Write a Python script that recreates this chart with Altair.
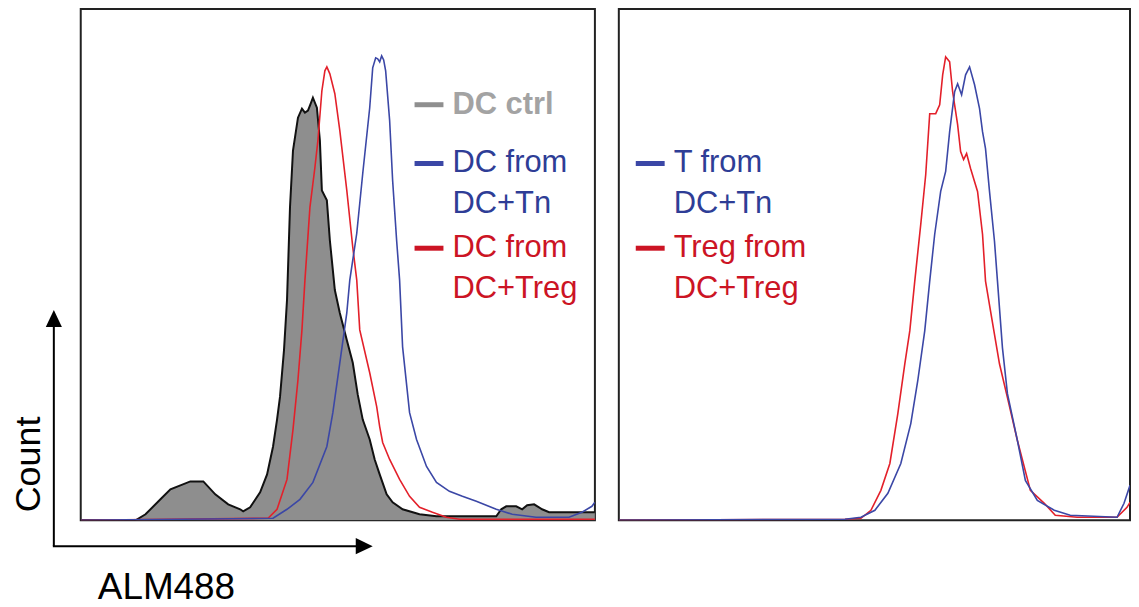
import altair as alt
import pandas as pd

# ---------------- data ----------------
# Left panel: ALM488 histograms (x = channel position, y = count, arbitrary units)
ctrl_x = [0, 55, 65, 80, 90, 100, 110, 123, 135, 148, 160, 163, 170, 180, 187, 193, 197, 200, 204, 207,
          210, 213, 218, 222, 225, 228, 230, 233, 237, 240, 242, 247, 250, 255, 260, 267, 273, 278, 283,
          290, 295, 300, 307, 313, 323, 340, 357, 417, 422, 427, 437, 443, 448, 455, 463, 470, 516]
ctrl_y = [0, 0, 6, 21, 31, 35, 39, 39, 26, 16, 11, 9, 13, 28, 46, 74, 101, 124, 171, 221,
          314, 371, 404, 413, 409, 411, 416, 424, 414, 381, 331, 321, 281, 231, 208, 181, 158, 126, 101,
          81, 61, 46, 26, 18, 11, 6, 4, 4, 11, 14, 14, 11, 15, 16, 11, 8, 8]

dctreg_x = [0, 188, 197, 207, 213, 218, 222, 225, 230, 235, 238, 242, 245, 247, 250, 255, 260, 267, 273,
            277, 280, 290, 297, 300, 303, 310, 320, 330, 340, 353, 367, 380, 516]
dctreg_y = [0, 2, 11, 41, 91, 141, 191, 241, 314, 354, 381, 431, 451, 455, 448, 428, 391, 331, 274,
            241, 191, 148, 114, 94, 78, 61, 41, 24, 13, 8, 3, 1, 1]

dctn_x = [0, 193, 207, 220, 233, 247, 253, 260, 267, 270, 277, 283, 290, 293, 296, 298, 300, 302, 304,
          306, 310, 313, 317, 320, 323, 330, 337, 347, 357, 370, 383, 397, 417, 433, 457, 490, 503, 513, 516]
dctn_y = [0, 2, 11, 21, 38, 74, 108, 158, 208, 241, 288, 348, 414, 454, 464, 463, 460, 466, 462,
          451, 401, 341, 281, 241, 174, 108, 81, 54, 38, 29, 24, 19, 11, 6, 3, 3, 8, 14, 18]

# Right panel: T cell histograms
ttn_x = [0, 227, 243, 257, 270, 283, 293, 300, 307, 312, 317, 323, 328, 332, 337, 340, 344, 348, 352,
         357, 362, 365, 368, 372, 377, 380, 385, 390, 400, 408, 420, 437, 453, 500, 507, 513]
ttn_y = [0, 1, 3, 10, 27, 57, 97, 140, 190, 240, 287, 330, 350, 390, 430, 438, 427, 447, 455,
         437, 413, 390, 373, 330, 280, 240, 173, 127, 80, 40, 20, 10, 5, 3, 17, 35]

treg_x = [0, 227, 243, 253, 263, 272, 280, 287, 292, 297, 303, 308, 312, 315, 318, 322, 325, 328, 332,
          335, 340, 343, 346, 349, 353, 360, 365, 368, 373, 382, 390, 400, 413, 427, 438, 460, 500, 510, 513]
treg_y = [0, 1, 2, 10, 30, 57, 107, 157, 190, 240, 297, 347, 408, 408, 408, 417, 447, 465, 460,
          430, 397, 370, 362, 368, 353, 330, 287, 240, 210, 157, 123, 80, 30, 17, 5, 3, 3, 13, 18]

left_labels = [["DC ctrl"], ["DC from", "DC+Tn"], ["DC from", "DC+Treg"]]
right_labels = [["T from", "DC+Tn"], ["Treg from", "DC+Treg"]]
x_title = "ALM488"
y_title = "Count"

# ---------------- style ----------------
GRAY_FILL = "#8e8e8e"
GRAY_TEXT = "#a3a3a3"
BLUE = "#3b47a6"
BLUE_TXT = "#2e3d96"
RED = "#e3202a"
RED_TXT = "#cc1424"
FONT = "Liberation Sans"
FS = 31

LW, RW, H = 516, 513, 513
YMAX = 513


def curve_df(xv, yv):
    return pd.DataFrame({"x": xv, "y": yv})


one = pd.DataFrame({"a": [0]})


def xs(w):
    return alt.X("x:Q", scale=alt.Scale(domain=[0, w], nice=False, zero=False), axis=None)


ysc = alt.Y("y:Q", scale=alt.Scale(domain=[0, YMAX], nice=False), axis=None)


def line(xv, yv, color, w, width=1.6):
    return alt.Chart(curve_df(xv, yv)).mark_line(color=color, strokeWidth=width, clip=True).encode(
        x=xs(w), y=ysc)


def legend_entry(lines, y0, x_dash, color, txtcolor, bold=False):
    layers = [alt.Chart(one).mark_rule(color=color, strokeWidth=5).encode(
        x=alt.value(x_dash), x2=alt.value(x_dash + 29), y=alt.value(y0))]
    for i, t in enumerate(lines):
        layers.append(alt.Chart(one).mark_text(
            font=FONT, fontSize=FS, fontWeight="bold" if bold else "normal", color=txtcolor,
            align="left", baseline="middle").encode(
            x=alt.value(x_dash + 38), y=alt.value(y0 + i * 41), text=alt.value(t)))
    return layers


# Left panel
gray_area = alt.Chart(curve_df(ctrl_x, ctrl_y)).mark_area(color=GRAY_FILL, opacity=1, clip=True).encode(
    x=xs(LW), y=ysc)
gray_line = line(ctrl_x, ctrl_y, "#111111", LW, 2)
red_l = line(dctreg_x, dctreg_y, RED, LW)
blue_l = line(dctn_x, dctn_y, BLUE, LW)

left_layers = [gray_area, gray_line, red_l, blue_l]
left_layers += legend_entry(left_labels[0], 96, 335, "#8f8f8f", GRAY_TEXT, bold=True)
left_layers += legend_entry(left_labels[1], 155, 335, BLUE, BLUE_TXT)
left_layers += legend_entry(left_labels[2], 240, 335, RED_TXT, RED_TXT)

# axis arrows and titles (outside the left frame)
left_layers.append(alt.Chart(one).mark_rule(color="black", strokeWidth=2).encode(
    x=alt.value(-27), y=alt.value(539), y2=alt.value(315)))
left_layers.append(alt.Chart(one).mark_rule(color="black", strokeWidth=2).encode(
    x=alt.value(-28), x2=alt.value(282), y=alt.value(539)))
left_layers.append(alt.Chart(one).mark_point(
    shape="M0,-1L0.95,1L-0.95,1Z", filled=True, color="black", opacity=1, size=289).encode(
    x=alt.value(-27), y=alt.value(310.5)))
left_layers.append(alt.Chart(one).mark_point(
    shape="M1,0L-1,-0.95L-1,0.95Z", filled=True, color="black", opacity=1, size=289).encode(
    x=alt.value(284.5), y=alt.value(539)))
left_layers.append(alt.Chart(one).mark_text(
    font=FONT, fontSize=36, color="black", angle=270, align="center", baseline="middle").encode(
    x=alt.value(-52), y=alt.value(457), text=alt.value(y_title)))
left_layers.append(alt.Chart(one).mark_text(
    font=FONT, fontSize=37, color="black", align="center", baseline="alphabetic").encode(
    x=alt.value(86), y=alt.value(592), text=alt.value(x_title)))

left = alt.layer(*left_layers).properties(width=LW, height=H)

# Right panel
right_layers = [line(treg_x, treg_y, RED, RW), line(ttn_x, ttn_y, BLUE, RW)]
right_layers += legend_entry(right_labels[0], 155, 17, BLUE, BLUE_TXT)
right_layers += legend_entry(right_labels[1], 240, 17, RED_TXT, RED_TXT)
right = alt.layer(*right_layers).properties(width=RW, height=H)

chart = alt.hconcat(left, right, spacing=24, bounds="flush").properties(
    padding={"left": 2, "top": -1, "right": 0, "bottom": 0}
).configure(background="white").configure_view(stroke="#222222", strokeWidth=2)

chart.save("out.html", embed_options={"renderer": "svg", "actions": False})
